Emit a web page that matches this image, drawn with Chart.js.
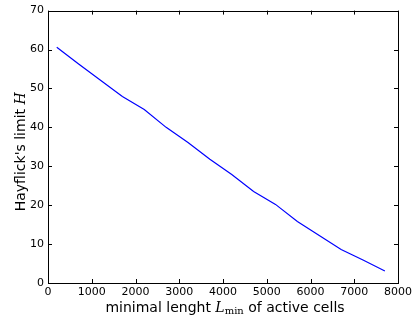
<!DOCTYPE html>
<html>
<head>
<meta charset="utf-8">
<script src="https://cdn.jsdelivr.net/npm/chart.js@4.4.1/dist/chart.umd.min.js"></script>
<style>
  html, body { margin: 0; padding: 0; background: #fff; }
  #wrap { width: 417px; height: 322px; }
</style>
</head>
<body>
<div id="wrap"><canvas id="c" width="417" height="322"></canvas></div>
<script>
// minimal length L_min (x) and Hayflick's limit H (y)
const lengths = [200, 700, 1200, 1700, 2200, 2700, 3200, 3700, 4200, 4700, 5200, 5700, 6200, 6700, 7200, 7700];
const hayflick = [60.6, 56.3, 52.1, 47.9, 44.6, 40.0, 36.1, 31.8, 27.9, 23.5, 20.2, 15.8, 12.2, 8.6, 5.9, 3.1];

const xTicks = [0, 1000, 2000, 3000, 4000, 5000, 6000, 7000, 8000];
const yTicks = [0, 10, 20, 30, 40, 50, 60, 70];

const FONT = '"DejaVu Sans", sans-serif';
const MATH = '"DejaVu Serif", "Liberation Serif", serif';

// draw a run of [text, font, dy] pieces starting at x
function drawPieces(ctx, pieces, x, y) {
    for (const [txt, font, dy] of pieces) {
        ctx.font = font;
        ctx.fillText(txt, x, y + dy);
        x += ctx.measureText(txt).width;
    }
}
function piecesWidth(ctx, pieces) {
    let w = 0;
    for (const [txt, font] of pieces) { ctx.font = font; w += ctx.measureText(txt).width; }
    return w;
}

// matplotlib-like frame, inward ticks on all sides, axis titles with math parts
const mplFrame = {
    id: 'mplFrame',
    afterDatasetsDraw(chart) {
        const { ctx, chartArea: a, scales } = chart;
        ctx.save();
        ctx.strokeStyle = '#000';
        ctx.lineWidth = 1;
        ctx.strokeRect(Math.round(a.left) + 0.5, Math.round(a.top) + 0.5,
            Math.round(a.right - a.left), Math.round(a.bottom - a.top));
        const L = 4;
        ctx.beginPath();
        for (const v of xTicks) {
            const px = Math.round(scales.x.getPixelForValue(v)) + 0.5;
            ctx.moveTo(px, a.bottom); ctx.lineTo(px, a.bottom - L);
            ctx.moveTo(px, a.top); ctx.lineTo(px, a.top + L);
        }
        for (const v of yTicks) {
            const py = Math.round(scales.y.getPixelForValue(v)) + 0.5;
            ctx.moveTo(a.left, py); ctx.lineTo(a.left + L, py);
            ctx.moveTo(a.right, py); ctx.lineTo(a.right - L, py);
        }
        ctx.stroke();

        ctx.fillStyle = '#000';
        ctx.textBaseline = 'alphabetic';
        ctx.textAlign = 'left';
        // x title
        const xt = [
            ['minimal lenght ', '14px ' + FONT, 0],
            ['L', 'italic 14px ' + MATH, 0],
            ['min', '10px ' + MATH, 2],
            [' of active cells', '14px ' + FONT, 0]
        ];
        const cx = (a.left + a.right) / 2;
        drawPieces(ctx, xt, cx - piecesWidth(ctx, xt) / 2 + 2, 312);
        // y title
        const yt = [
            ["Hayflick's limit ", '14px ' + FONT, 0],
            ['H', 'italic 14px ' + MATH, 0]
        ];
        ctx.translate(25, (a.top + a.bottom) / 2 + 5);
        ctx.rotate(-Math.PI / 2);
        drawPieces(ctx, yt, -piecesWidth(ctx, yt) / 2, 0);
        ctx.restore();
    }
};

new Chart(document.getElementById('c'), {
    type: 'line',
    data: {
        datasets: [{
            data: lengths.map((x, i) => ({ x: x, y: hayflick[i] })),
            borderColor: '#0000ff',
            borderWidth: 1.2,
            pointRadius: 0,
            tension: 0,
            fill: false
        }]
    },
    options: {
        responsive: false,
        animation: false,
        devicePixelRatio: 1,
        layout: { padding: { left: 0, right: 19, top: 10, bottom: 0 } },
        plugins: { legend: { display: false }, tooltip: { enabled: false } },
        scales: {
            x: {
                type: 'linear',
                min: 0, max: 8000,
                grid: { display: false, drawTicks: false },
                border: { display: false },
                afterBuildTicks: s => { s.ticks = xTicks.map(v => ({ value: v })); },
                afterFit: s => { s.height = 39; },
                ticks: { color: '#000', padding: 3, maxRotation: 0, autoSkip: false,
                         callback: v => String(v),
                         font: { family: FONT, size: 11 } }
            },
            y: {
                min: 0, max: 70,
                grid: { display: false, drawTicks: false },
                border: { display: false },
                afterBuildTicks: s => { s.ticks = yTicks.map(v => ({ value: v })); },
                afterFit: s => { s.width = 48; },
                ticks: { color: '#000', padding: 4, autoSkip: false,
                         callback: v => String(v),
                         font: { family: FONT, size: 11 } }
            }
        }
    },
    plugins: [mplFrame]
});
</script>
</body>
</html>
